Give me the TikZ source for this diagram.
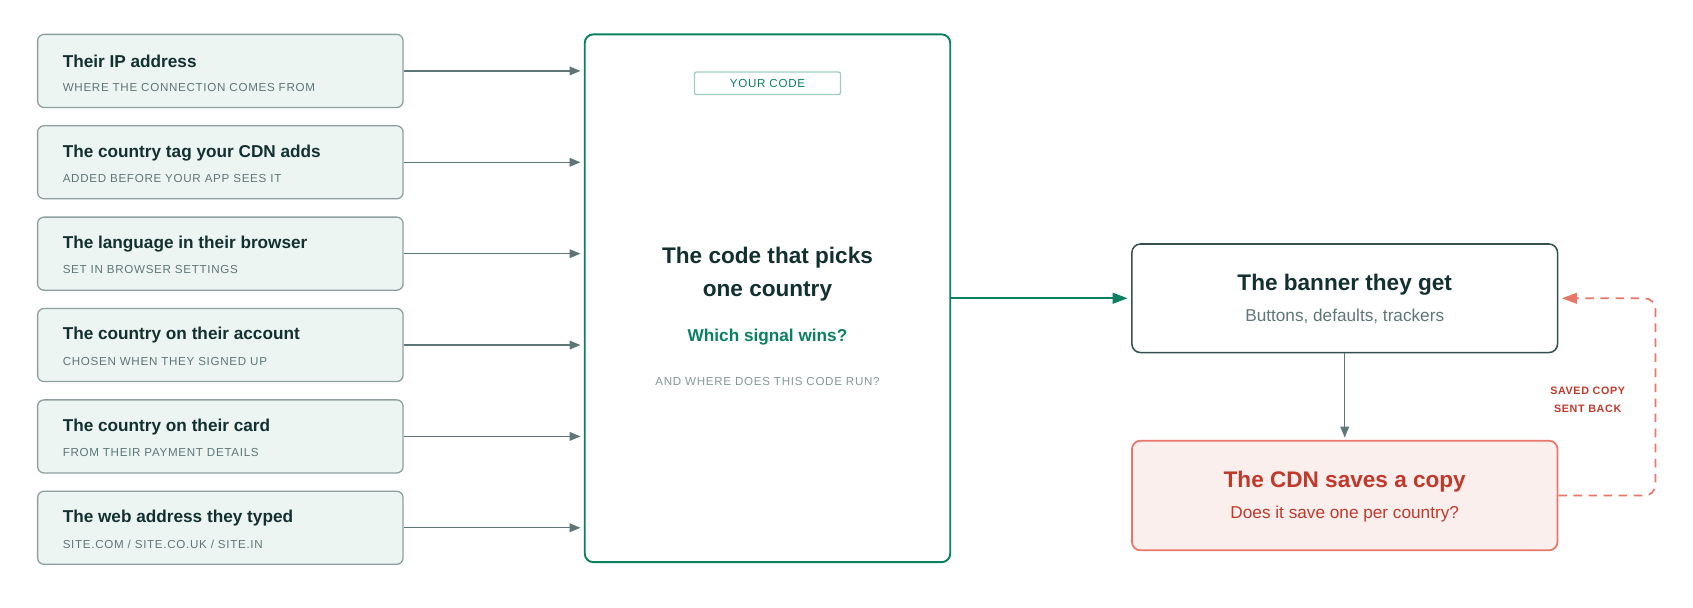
\documentclass[tikz,border=0pt]{standalone}
\usepackage{fontspec}
\setmainfont{Liberation Sans}
\newfontfamily\spaced[LetterSpace=6]{Liberation Sans}
\usetikzlibrary{arrows.meta,positioning}
\definecolor{ink}{HTML}{12302F}
\definecolor{slate}{HTML}{5E7677}
\definecolor{mint}{HTML}{EDF5F3}
\definecolor{teal}{HTML}{0A8063}
\definecolor{rust}{HTML}{C0392B}
\definecolor{coral}{HTML}{E8776A}
\definecolor{blush}{HTML}{FBEFED}
\tikzstyle{signal} = [draw=slate!70, fill=mint, rounded corners=3, line width=0.6pt, minimum width=170, minimum height=34, inner sep=0]
\tikzstyle{head} = [anchor=west, text=ink, font=\fontsize{8}{9}\selectfont\bfseries, inner sep=0]
\tikzstyle{sub} = [anchor=west, text=slate, font=\spaced\fontsize{5.4}{6}\selectfont, inner sep=0]
\tikzstyle{feed} = [draw=slate, line width=0.6pt, -{Triangle[length=5pt,width=4pt]}]
\begin{document}
\begin{tikzpicture}[x=0.5pt,y=-0.5pt]
\useasboundingbox (0,0) rectangle (1575,565);

% signals on the left
\foreach \n/\t/\s [count=\i from 0] in {
  ip/Their IP address/WHERE THE CONNECTION COMES FROM,
  tag/The country tag your CDN adds/ADDED BEFORE YOUR APP SEES IT,
  lang/The language in their browser/SET IN BROWSER SETTINGS,
  acct/The country on their account/CHOSEN WHEN THEY SIGNED UP,
  card/The country on their card/FROM THEIR PAYMENT DETAILS,
  web/The web address they typed/SITE.COM {/} SITE.CO.UK {/} SITE.IN}{
  \node[signal] (\n) at (205,66+85*\i) {};
  \node[head] (\n-t) at (58,57+85*\i) {\t};
  \node[sub] (\n-s) at (58,81+85*\i) {\s};
  \coordinate (\n-in) at (540,66+85*\i);
  \draw[feed] (\n.east) -- (\n-in);
}

% the code in the middle
\node[draw=teal, rounded corners=4, line width=0.9pt, minimum width=170, minimum height=245.5, inner sep=0] (code) at (714,277.5) {};
\node[draw=teal!40, line width=0.6pt, rounded corners=1, minimum width=68, minimum height=10.5, inner sep=0, text=teal, font=\spaced\fontsize{5.4}{6}\selectfont] (yours) at (714,77.5) {YOUR CODE};
\node[text=ink, align=center, font=\fontsize{10.5}{15}\selectfont\bfseries] (pick) at (714,255) {The code that picks\\one country};
\node[text=teal, font=\fontsize{8}{9}\selectfont\bfseries] (wins) at (714,314) {Which signal wins?};
\node[text=slate!75, font=\spaced\fontsize{5.4}{6}\selectfont] (where) at (714,355) {AND WHERE DOES THIS CODE RUN?};

% what comes out
\node[draw=ink!85, rounded corners=4, line width=0.7pt, minimum width=198, minimum height=50.5, inner sep=0] (banner) at (1251,277.5) {};
\node[text=ink, font=\fontsize{10.5}{12}\selectfont\bfseries] (banner-t) at (1251,265) {The banner they get};
\node[text=slate, font=\fontsize{8}{9}\selectfont] (banner-s) at (1251,294) {Buttons, defaults, trackers};

\node[draw=coral, fill=blush, rounded corners=4, line width=0.8pt, minimum width=198, minimum height=51, inner sep=0] (cdn) at (1251,461) {};
\node[text=rust, font=\fontsize{10.5}{12}\selectfont\bfseries] (cdn-t) at (1251,448) {The CDN saves a copy};
\node[text=rust, font=\fontsize{8}{9}\selectfont] (cdn-s) at (1251,478) {Does it save one per country?};

\coordinate (banner-in) at (1049,277.5);
\coordinate (cdn-in) at (1251,407);
\coordinate (back) at (1453,277.5);
\draw[draw=teal, line width=0.9pt, -{Triangle[length=7pt,width=5pt]}] (code.east) -- (banner-in);
\draw[feed] (banner.south) -- (cdn-in);
\draw[draw=coral, line width=0.8pt, dash pattern=on 4pt off 3pt, rounded corners=5, -{Triangle[length=7pt,width=5pt]}]
  (cdn.east) -- (1540,461) -- (1540,277.5) -- (back);
\node[text=rust, align=center, font=\spaced\fontsize{5}{8}\selectfont\bfseries] (saved) at (1477,372) {SAVED COPY\\SENT BACK};
\end{tikzpicture}
\end{document}
